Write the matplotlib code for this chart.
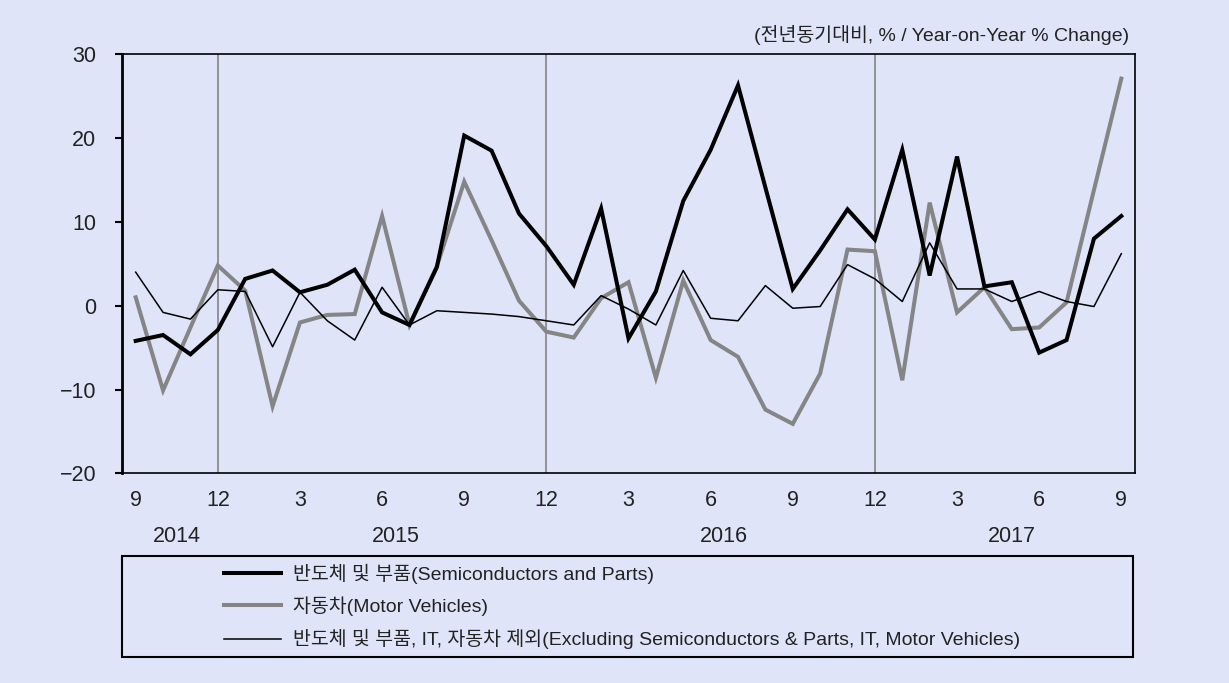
import numpy as np
import matplotlib
matplotlib.use("Agg")
import matplotlib.pyplot as plt
from matplotlib.patches import Rectangle

plt.rcParams['font.family'] = ['Liberation Sans', 'Noto Sans CJK KR', 'DejaVu Sans']

# monthly YoY % change, Sep 2014 .. Sep 2017
semi = [-4.2, -3.5, -5.8, -2.9, 3.2, 4.2, 1.6, 2.5, 4.3, -0.8, -2.3, 4.6,
        20.3, 18.5, 11.0, 7.1, 2.5, 11.6, -3.9, 1.7, 12.5, 18.6, 26.3, 14.1,
        2.0, 6.6, 11.5, 7.9, 18.6, 3.6, 17.8, 2.3, 2.8, -5.6, -4.1, 8.0, 10.7]
motor = [1.0, -10.1, -2.6, 4.8, 1.8, -12.0, -2.0, -1.1, -1.0, 10.7, -2.3, 4.7,
         14.8, 7.8, 0.6, -3.1, -3.8, 0.9, 2.8, -8.6, 3.0, -4.1, -6.1, -12.4,
         -14.1, -8.1, 6.7, 6.5, -8.9, 12.3, -0.8, 2.2, -2.8, -2.6, 0.4, 13.8, 27.1]
excl = [4.0, -0.8, -1.6, 1.9, 1.7, -4.9, 1.6, -1.8, -4.1, 2.2, -2.3, -0.6,
        -0.8, -1.0, -1.3, -1.8, -2.3, 1.2, -0.4, -2.3, 4.2, -1.5, -1.8, 2.4,
        -0.3, -0.1, 4.9, 3.2, 0.5, 7.5, 2.0, 2.0, 0.5, 1.7, 0.5, -0.1, 6.2]

tick_labels = ['9', '12', '3', '6', '9', '12', '3', '6', '9', '12', '3', '6', '9']
years = ['2014', '2015', '2016', '2017']
year_pos = [1.5, 9.5, 21.5, 32]
dec_idx = [3, 15, 27]

labels = ['반도체 및 부품(Semiconductors and Parts)',
          '자동차(Motor Vehicles)',
          '반도체 및 부품, IT, 자동차 제외(Excluding Semiconductors & Parts, IT, Motor Vehicles)']

bg = '#E0E4F8'
txt = '#222222'
W, H = 1229, 683
fig = plt.figure(figsize=(W / 100, H / 100), dpi=100, facecolor=bg)
ax = fig.add_axes([122 / W, 1 - 473.3 / H, (1135 - 122) / W, (473.3 - 54.3) / H])
ax.set_facecolor(bg)

x = np.arange(len(semi))
for d in dec_idx:
    ax.axvline(d, color='#8c8c8c', lw=1.3, zorder=1)

l1, = ax.plot(x, semi, color='black', lw=2.9, zorder=4, solid_joinstyle='miter')
l2, = ax.plot(x, motor, color='#858585', lw=2.9, zorder=3, solid_joinstyle='miter')
l3, = ax.plot(x, excl, color='black', lw=1.1, zorder=5)

ax.set_xlim(-0.5, 36.5)
ax.set_ylim(-20, 30)
ax.set_yticks([-20, -10, 0, 10, 20, 30])
ax.set_xticks(np.arange(0, 37, 3))
ax.set_xticklabels(tick_labels)
ax.tick_params(axis='x', length=0, pad=12, labelsize=15.5, labelcolor=txt)
ax.tick_params(axis='y', length=5, width=1.5, direction='out', pad=13.5, labelsize=15.5,
               color='black', labelcolor=txt)
for s in ax.spines.values():
    s.set_linewidth(1.2)
ax.spines['left'].set_linewidth(2.0)

for yr, p in zip(years, year_pos):
    ax.text(p, -0.152, yr, transform=ax.get_xaxis_transform(), ha='center', va='center',
            fontsize=15.5, color=txt)

fig.text(1129 / W, 1 - 35 / H, '(전년동기대비, % / Year-on-Year % Change)', ha='right',
         va='center', fontsize=14, color=txt)

# legend box
fig.patches.append(Rectangle((122 / W, 1 - 657 / H), (1133 - 122) / W, (657 - 556) / H,
                             transform=fig.transFigure, fill=False, edgecolor='black',
                             lw=1.5))
fig.legend([l1, l2, l3], labels, loc='upper left', bbox_to_anchor=(206 / W, 1 - 546 / H),
           frameon=False, fontsize=14, handlelength=2.94, handletextpad=0.62,
           labelspacing=0.67, labelcolor=txt)

fig.savefig('out.png', dpi=100, facecolor=bg)
